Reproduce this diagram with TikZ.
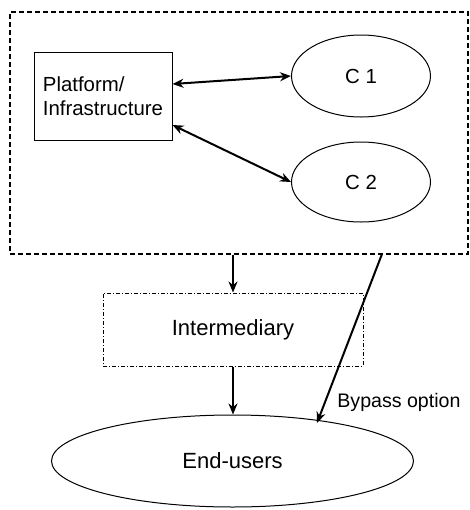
\documentclass[tikz,border=0pt]{standalone}
\usepackage{fontspec}
\setmainfont{Liberation Sans}
\usetikzlibrary{shapes.geometric}
\usetikzlibrary{arrows.meta}
\tikzset{box/.style={draw, line width=.5pt, rectangle, inner sep=0pt},
 oval/.style={draw, line width=.5pt, ellipse, inner sep=0pt},
 link/.style={line width=1pt, -{Stealth[length=5.5pt,width=4.5pt]}},
 twoway/.style={line width=1pt, {Stealth[length=5.5pt,width=4.5pt]}-{Stealth[length=5.5pt,width=4.5pt]}},
 }

\begin{document}
\begin{tikzpicture}[x=.5pt, y=-.5pt, font=\fontsize{10.2}{12.2}\selectfont]
        \useasboundingbox (0,0) rectangle (470,510);

        % the platform and its complementors
        \node[box, minimum width=229pt, minimum height=121pt, line width=.9pt,
              dash pattern=on 2.5pt off 1.5pt] (outer) at (239,133) {};
        \node[box, minimum width=69pt, minimum height=44pt, align=left] (plat) at (103,96)
            {Platform/\\Infrastructure};
        \node[oval, minimum width=69.5pt, minimum height=41pt] (c1) at (361,76) {C 1};
        \node[oval, minimum width=69.5pt, minimum height=40pt] (c2) at (361,182) {C 2};

        \draw[twoway] ([yshift=6pt]plat.east) -- (c1.west);
        \draw[twoway] ([yshift=-14.5pt]plat.east) -- (c2.west);

        % intermediary and end-users
        \node[box, minimum width=130pt, minimum height=36.5pt,
              dash pattern=on 2pt off 1pt on .5pt off 1pt,
              font=\fontsize{11}{13}\selectfont] (inter) at (233,329.5) {Intermediary};
        \node[oval, minimum width=181pt, minimum height=46pt,
              font=\fontsize{11}{13}\selectfont] (users) at (232.5,461) {End-users};

        \draw[link] (outer.south -| inter.north) -- (inter.north);
        \draw[link] (inter.south) -- (users.north -| inter.south);

        % bypass
        \coordinate (bp) at (382,254);
        \coordinate (bpend) at (317,423);
        \draw[link] (bp) -- (bpend);
        \node[anchor=west, inner sep=0pt, font=\fontsize{9.8}{12}\selectfont] (bplabel) at (337,402)
            {Bypass option};
    \end{tikzpicture}
\end{document}
